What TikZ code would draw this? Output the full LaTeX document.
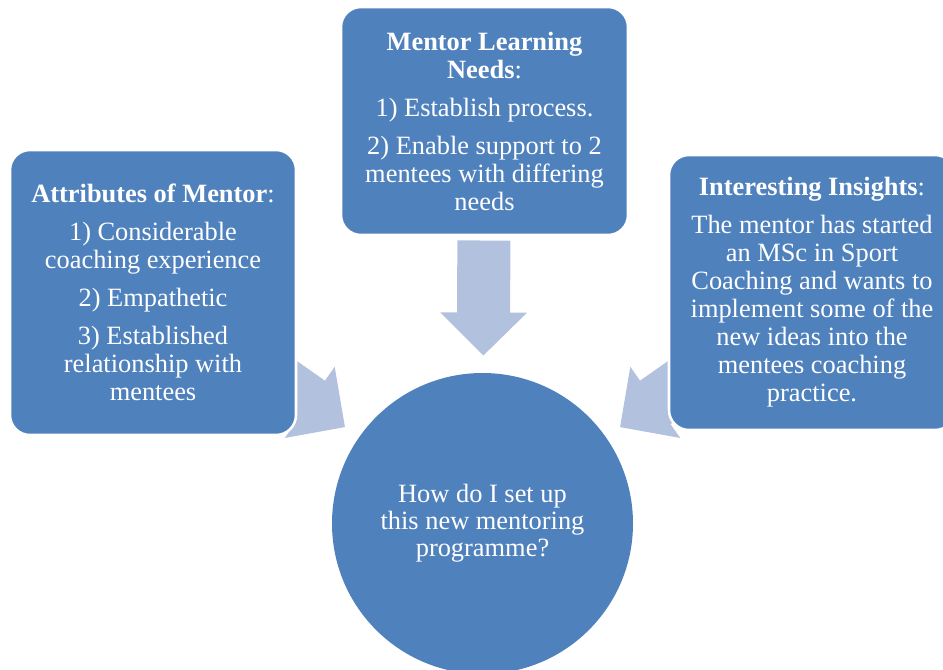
\documentclass[tikz,border=0pt]{standalone}
\usepackage{fontspec}
\setmainfont{Liberation Serif}
\usetikzlibrary{calc,backgrounds}
\definecolor{boxblue}{HTML}{4F81BD}
\definecolor{arrowblue}{RGB}{178,194,222}
\newcommand\blkarrow[2]{%
  \coordinate (tp) at ($(#2.center)!126pt!(#1.center)$);
  \coordinate (hm) at ($(tp)!32.25pt!(#1.center)$);
  \coordinate (tl) at ($(tp)!86.25pt!(#1.center)$);
  \fill[arrowshape] ($(hm)!32.6pt!90:(#1.center)$) -- (tp) -- ($(hm)!32.6pt!-90:(#1.center)$)
    -- ($(hm)!19.9pt!-90:(#1.center)$) -- ($(tl)!19.9pt!-90:(#1.center)$)
    -- ($(tl)!19.9pt!90:(#1.center)$) -- ($(hm)!19.9pt!90:(#1.center)$) -- cycle;}
\begin{document}
\begin{tikzpicture}[x=0.75pt,y=-0.75pt,
  box/.style={draw=white, line width=1.9pt, fill=boxblue, rounded corners=15pt, text=white,
    align=center, inner sep=0pt, font=\fontsize{19.8}{21}\selectfont},
  arrowshape/.style={fill=arrowblue}]
\clip (0,0) rectangle (943,669);
\useasboundingbox (0,0) rectangle (943,669);
\node[box, minimum width=214.5pt, minimum height=213.75pt] (attr) at (153,292.5)
  {\textbf{Attributes of Mentor}:\\[7.5pt]1) Considerable\\coaching experience\\[7.5pt]2) Empathetic\\[7.5pt]3) Established\\relationship with\\mentees};
\node[box, minimum width=215.25pt, minimum height=171pt] (needs) at (484.5,121)
  {\textbf{Mentor Learning}\\\textbf{Needs}:\\[7.5pt]1) Establish process.\\[7.5pt]2) Enable support to 2\\mentees with differing\\needs};
\node[box, minimum width=214.5pt, minimum height=206.25pt] (ins) at (812,292.5)
  {\textbf{Interesting Insights}:\\[7.5pt]The mentor has started\\an MSc in Sport\\Coaching and wants to\\implement some of the\\new ideas into the\\mentees coaching\\practice.};
\node[box, circle, draw=none, rounded corners=0pt, minimum size=225.75pt, font=\fontsize{19.8}{20.3}\selectfont] (q) at (482.5,523.5)
  {How do I set up\\this new mentoring\\programme?};
\begin{scope}[on background layer]
\blkarrow{attr}{q}
\blkarrow{needs}{q}
\blkarrow{ins}{q}
\end{scope}
\end{tikzpicture}
\end{document}
